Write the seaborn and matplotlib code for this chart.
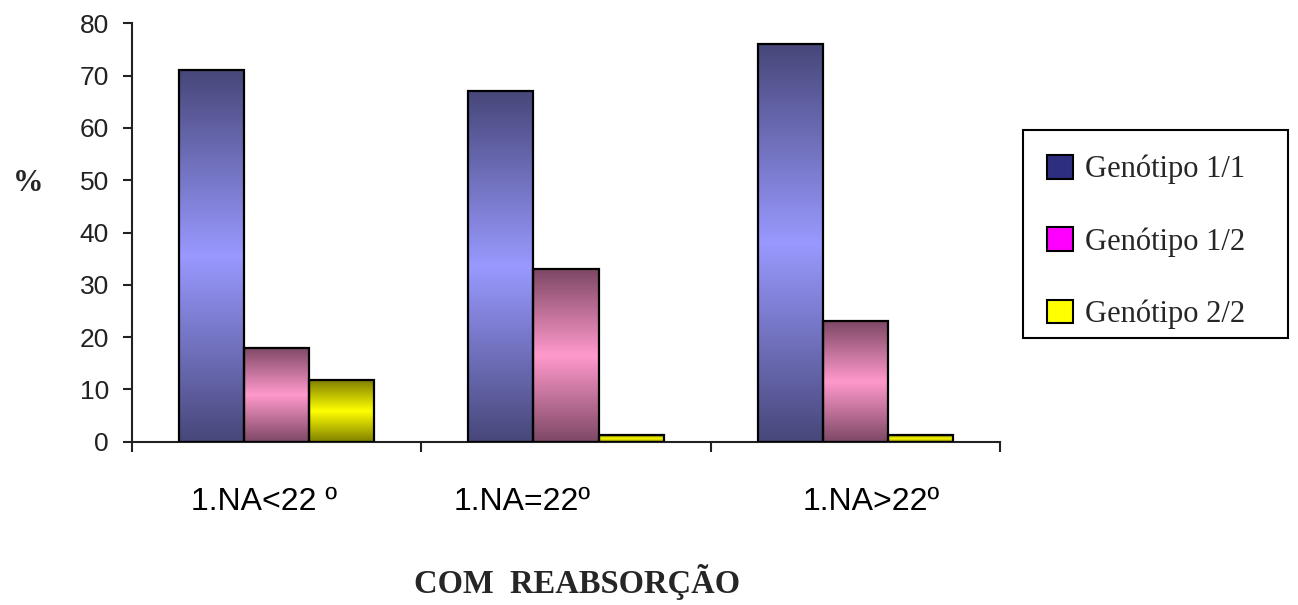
import numpy as np
import pandas as pd
import matplotlib
matplotlib.use("Agg")
import matplotlib.pyplot as plt
import matplotlib.transforms as mtrans
from matplotlib.patches import Patch, Rectangle
import seaborn as sns

# ---- data ----
categories = ["1.NA<22 º", "1.NA=22º", "1.NA>22º"]
genotypes = ["Genótipo 1/1", "Genótipo 1/2", "Genótipo 2/2"]
g11 = [71, 67, 76]
g12 = [18, 33, 23]
g22 = [11.8, 1.2, 1.2]
yticks = [0, 10, 20, 30, 40, 50, 60, 70, 80]
ylabel = "%"
xtitle = "COM  REABSORÇÃO"

# ---- styling ----
mid_colors = ["#9999FF", "#FF99CC", "#FFFF00"]
dark_colors = ["#47477A", "#7E4865", "#808000"]
legend_colors = ["#2E2E80", "#FF00FF", "#FFFF00"]
label_offsets = [-0.045, -0.15, 0.055]

df = pd.DataFrame({
    "cat": categories * 3,
    "gen": [g for g in genotypes for _ in categories],
    "val": g11 + g12 + g22,
})

sns.set_theme(style="white")
plt.rcParams["font.family"] = ["Liberation Sans", "DejaVu Sans"]

fig = plt.figure(figsize=(12.98, 6.05), dpi=100)
ax = fig.add_axes([132 / 1298, 1 - 441.7 / 605, 868 / 1298, 418.4 / 605])

sns.barplot(data=df, x="cat", y="val", hue="gen", order=categories,
            hue_order=genotypes, palette=mid_colors, width=0.675,
            saturation=1, edgecolor="black", linewidth=1.6,
            legend=False, ax=ax, zorder=3)

# gradient fill (dark at top/bottom, light in the middle)
t = np.linspace(0, 1, 256)
f = 1 - np.abs(2 * t - 1)
for cont, dc, lc in zip(ax.containers, dark_colors, mid_colors):
    d = np.array(matplotlib.colors.to_rgb(dc))
    l = np.array(matplotlib.colors.to_rgb(lc))
    img = (d[None, :] + (l - d)[None, :] * f[:, None])[:, None, :]
    for bar in cont:
        x0, w, h = bar.get_x(), bar.get_width(), bar.get_height()
        im = ax.imshow(img, extent=[x0, x0 + w, 0, h], origin="lower",
                       aspect="auto", interpolation="bilinear", zorder=2)
        im.set_clip_path(bar)
        bar.set_facecolor("none")

ax.set_xlim(-0.5, 2.5)
ax.set_ylim(0, 80)
ax.set_yticks(yticks)
ax.set_xticks([-0.5, 0.5, 1.5, 2.5])
ax.set_xticklabels([])
ax.set_xlabel("")
ax.set_ylabel("")
for s in ["top", "right"]:
    ax.spines[s].set_visible(False)
for s in ["left", "bottom"]:
    ax.spines[s].set_linewidth(1.5)
    ax.spines[s].set_color("#222222")
ax.tick_params(axis="y", direction="out", length=6.5, width=1.5,
               pad=10, labelsize=19, color="#222222", labelcolor="#222222", left=True)
ax.tick_params(axis="x", direction="out", length=7.5, width=1.5,
               color="#222222", bottom=True)

trans = mtrans.blended_transform_factory(ax.transData, fig.transFigure)
for i, (cat, off) in enumerate(zip(categories, label_offsets)):
    ax.text(i + off, 1 - 510 / 605, cat, transform=trans, ha="center",
            va="baseline", fontsize=23, family="Liberation Sans", color="black")

fig.text(28 / 1298, 1 - 184 / 605, ylabel, fontsize=22, fontweight="bold",
         family="Liberation Serif", ha="center", va="center")
fig.text(577 / 1298, 1 - 582 / 605, xtitle, fontsize=23.5, fontweight="bold",
         family="Liberation Serif", ha="center", va="center")

handles = [Patch(facecolor=c, edgecolor="black", linewidth=1.5, label=g)
           for c, g in zip(legend_colors, genotypes)]
fig.legend(handles=handles, loc="upper left",
           bbox_to_anchor=(1047 / 1298, 1 - 155 / 605),
           frameon=False, prop={"family": "Liberation Serif", "size": 22},
           handlelength=0.85, handleheight=0.8, handletextpad=0.4,
           labelspacing=1.4, borderpad=0, borderaxespad=0)
fig.patches.append(Rectangle((1023 / 1298, 1 - 338 / 605), 265 / 1298, 208 / 605,
                             transform=fig.transFigure, fill=False,
                             edgecolor="black", linewidth=1.5))

fig.savefig("out.png", dpi=100, facecolor="white")
